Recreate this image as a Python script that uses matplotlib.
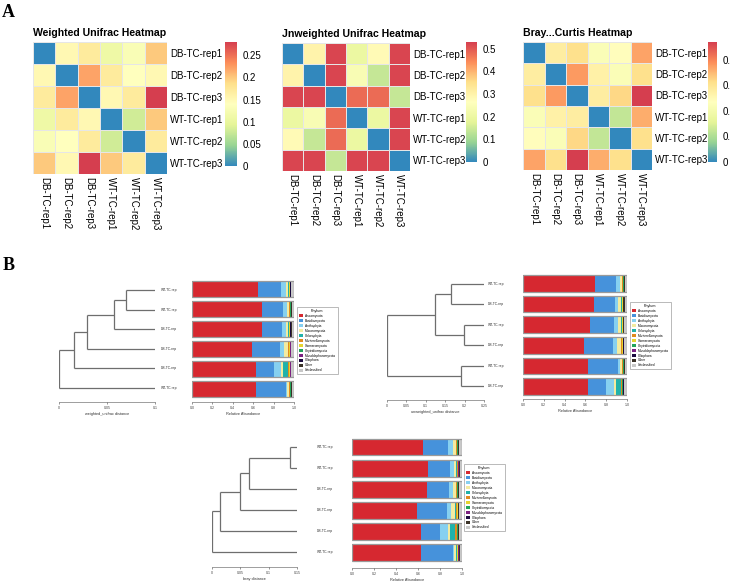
# Beta diversity heatmaps (A) and clustering trees with phylum bars (B)

import numpy as np
import matplotlib.pyplot as plt
from matplotlib.colors import LinearSegmentedColormap
from matplotlib.patches import Patch

W, H = 730, 584

# =============================================================================
#                                     Data
# =============================================================================
samples = ['DB-TC-rep1', 'DB-TC-rep2', 'DB-TC-rep3',
           'WT-TC-rep1', 'WT-TC-rep2', 'WT-TC-rep3']

weighted = [[0.00, 0.15, 0.17, 0.11, 0.13, 0.20],
            [0.15, 0.00, 0.22, 0.17, 0.14, 0.15],
            [0.17, 0.22, 0.00, 0.15, 0.17, 0.28],
            [0.11, 0.17, 0.15, 0.00, 0.08, 0.20],
            [0.13, 0.14, 0.17, 0.08, 0.00, 0.17],
            [0.20, 0.15, 0.28, 0.20, 0.17, 0.00]]

unweighted = [[0.00, 0.30, 0.52, 0.20, 0.28, 0.52],
              [0.30, 0.00, 0.52, 0.24, 0.14, 0.52],
              [0.52, 0.52, 0.00, 0.48, 0.48, 0.14],
              [0.20, 0.24, 0.48, 0.00, 0.20, 0.52],
              [0.28, 0.14, 0.48, 0.20, 0.00, 0.52],
              [0.52, 0.52, 0.14, 0.52, 0.52, 0.00]]

bray = [[0.00, 0.28, 0.31, 0.22, 0.24, 0.37],
        [0.28, 0.00, 0.38, 0.27, 0.22, 0.31],
        [0.31, 0.38, 0.00, 0.28, 0.32, 0.47],
        [0.22, 0.27, 0.28, 0.00, 0.12, 0.36],
        [0.24, 0.22, 0.32, 0.12, 0.00, 0.31],
        [0.37, 0.31, 0.47, 0.36, 0.31, 0.00]]

heat_titles = ['Weighted Unifrac Heatmap', 'Jnweighted Unifrac Heatmap',
               'Bray...Curtis Heatmap']
heat_vmax = [0.28, 0.53, 0.47]
heat_ticks = [[0, 0.05, 0.1, 0.15, 0.2, 0.25],
              [0, 0.1, 0.2, 0.3, 0.4, 0.5],
              [0, 0.1, 0.2, 0.3, 0.4]]

phyla = ['Ascomycota', 'Basidiomycota', 'Anthophyta', 'Mucoromycota',
         'Chlorophyta', 'Mortierellomycota', 'Glomeromycota',
         'Chytridiomycota', 'Monoblepharomycota', 'Ciliophora', 'Other',
         'Unclassified']
phyla_colors = ['#d62830', '#4692db', '#86d0f0', '#f3eba0', '#20b2aa',
                '#e08a1e', '#e6d42e', '#22a45a', '#7b2181', '#1b0b3f',
                '#3b3328', '#c8c8c8']

# relative abundance per sample (rows) and phylum (columns)
abundance = [[0.647, 0.226, 0.045, 0.026, 0.004, 0.006, 0.004, 0.003, 0.002, 0.003, 0.008, 0.026],
             [0.690, 0.205, 0.035, 0.020, 0.004, 0.006, 0.004, 0.003, 0.002, 0.003, 0.010, 0.018],
             [0.683, 0.199, 0.036, 0.026, 0.004, 0.006, 0.004, 0.003, 0.002, 0.003, 0.010, 0.024],
             [0.590, 0.276, 0.034, 0.040, 0.006, 0.008, 0.006, 0.004, 0.002, 0.002, 0.006, 0.026],
             [0.624, 0.176, 0.076, 0.014, 0.050, 0.012, 0.004, 0.008, 0.002, 0.002, 0.006, 0.026],
             [0.624, 0.294, 0.012, 0.020, 0.004, 0.004, 0.004, 0.006, 0.002, 0.004, 0.008, 0.018]]

# trees: nested (left, right, merge distance), leaves are row numbers in the bar order
tree_weighted = (((((0, 1, 0.0697), 2, 0.057), 3, 0.029), 4, 0.0153), 5, 0.0)
tree_unweighted = (((0, 1, 0.166), (2, 3, 0.198), 0.124), (4, 5, 0.192), 0.0)
tree_bray = (((((0, 1, 0.138), 2, 0.066), 3, 0.049), 4, 0.015), 5, 0.0)

leaves_weighted = ['WT-TC-rep', 'WT-TC-rep', 'DB-TC-rep', 'DB-TC-rep', 'DB-TC-rep', 'WT-TC-rep']
leaves_unweighted = ['WT-TC-rep', 'DB-TC-rep', 'WT-TC-rep', 'DB-TC-rep', 'WT-TC-rep', 'DB-TC-rep']
leaves_bray = ['WT-TC-rep', 'WT-TC-rep', 'DB-TC-rep', 'DB-TC-rep', 'DB-TC-rep', 'WT-TC-rep']

order_weighted = [0, 1, 2, 3, 4, 5]
order_unweighted = [1, 2, 0, 3, 5, 4]
order_bray = [0, 1, 2, 3, 4, 5]

# =============================================================================
#                                     Main
# =============================================================================
plt.rcParams['font.family'] = ['Liberation Sans', 'DejaVu Sans']

fig = plt.figure(figsize=(W / 100, H / 100), dpi=100)
fig.patch.set_facecolor('white')


def px_axes(x0, y0, x1, y1):
    return fig.add_axes([x0 / W, 1 - y1 / H, (x1 - x0) / W, (y1 - y0) / H])


cmap = LinearSegmentedColormap.from_list(
    'spec', ['#3288bd', '#99d594', '#e6f598', '#ffffbf', '#fee08b', '#fc8d59', '#d53e4f'])

# ---------------- panel A ----------------
heat_boxes = [(33, 42, 167, 174), (282, 43, 410, 171), (523, 42, 652, 170)]
cbar_boxes = [(225, 42, 237, 166), (466, 42, 477, 162), (708, 42, 717, 162)]
for mat, title, vmax, ticks, hb, cb in zip([weighted, unweighted, bray], heat_titles,
                                          heat_vmax, heat_ticks, heat_boxes, cbar_boxes):
    ax = px_axes(*hb)
    mesh = ax.pcolormesh(np.array(mat), cmap=cmap, vmin=0, vmax=vmax,
                         edgecolors='#e6e6e6', linewidth=0.4)
    ax.set_xlim(0, 6)
    ax.set_ylim(6, 0)
    for s in ax.spines.values():
        s.set_visible(False)
    ax.yaxis.tick_right()
    ax.set_yticks(np.arange(6) + 0.5)
    ax.set_yticklabels(samples, fontsize=7)
    ax.set_xticks(np.arange(6) + 0.5)
    ax.set_xticklabels(samples, fontsize=7, rotation=-90, va='top', ha='center')
    ax.tick_params(length=0, pad=2)
    ax.set_title(title, fontsize=7.6, fontweight='bold', loc='left', pad=4)
    cax = px_axes(*cb)
    cbar = fig.colorbar(mesh, cax=cax)
    cbar.outline.set_visible(False)
    cbar.set_ticks(ticks)
    cbar.set_ticklabels([f'{t:g}' for t in ticks])
    cax.tick_params(labelsize=7, length=2, width=0.5, color='white', pad=2)

fig.text(2 / W, 1 - 4 / H, 'A', fontsize=13, fontweight='bold',
         family='Liberation Serif', va='top')
fig.text(3 / W, 1 - 257 / H, 'B', fontsize=13, fontweight='bold',
         family='Liberation Serif', va='top')


# ---------------- panel B ----------------
def rows_axes(x0, x1, y_first, y_last, y_axis):
    sp = (y_last - y_first) / 5
    top = y_first - 0.6 * sp
    ax = px_axes(x0, top, x1, y_axis)
    ax.set_ylim((y_axis - y_first) / sp, -0.6)
    return ax


def draw_tree(ax, node, leaf_x):
    if isinstance(node, int):
        return leaf_x, node
    left, right, x = node
    xa, ya = draw_tree(ax, left, leaf_x)
    xb, yb = draw_tree(ax, right, leaf_x)
    ax.plot([x, xa], [ya, ya], color='#6e6e6e', lw=0.9, solid_capstyle='butt')
    ax.plot([x, xb], [yb, yb], color='#6e6e6e', lw=0.9, solid_capstyle='butt')
    ax.plot([x, x], [ya, yb], color='#6e6e6e', lw=0.9, solid_capstyle='butt')
    return x, (ya + yb) / 2


def style_bottom(ax, ticks, labels, xlabel):
    for k in ['top', 'left', 'right']:
        ax.spines[k].set_visible(False)
    ax.spines['bottom'].set_bounds(ticks[0], ticks[-1])
    ax.spines['bottom'].set_linewidth(0.4)
    ax.spines['bottom'].set_color('#555555')
    ax.set_yticks([])
    ax.set_xticks(ticks)
    ax.set_xticklabels(labels)
    ax.tick_params(axis='x', labelsize=2.6, length=1.5, width=0.4, pad=1.5, colors='#444444')
    ax.set_xlabel(xlabel, fontsize=2.8, labelpad=1.5, color='#333333')
    ax.patch.set_alpha(0)


trees = [tree_weighted, tree_unweighted, tree_bray]
leaf_sets = [leaves_weighted, leaves_unweighted, leaves_bray]
orders = [order_weighted, order_unweighted, order_bray]
tree_geo = [(59, 155, 0.1, 0.102, 290, 388, 402, [0, 0.05, 0.1], 'weighted_unifrac distance'),
            (387, 484, 0.25, 0.25, 284, 386, 400, [0, 0.05, 0.1, 0.15, 0.2, 0.25],
             'unweighted_unifrac distance'),
            (212, 297, 0.15, 0.179, 447, 552, 567, [0, 0.05, 0.1, 0.15], 'bray distance')]
bar_geo = [(192, 294, 289, 389, 402), (523, 627, 283.5, 386.5, 399), (352, 462, 447, 552.5, 568)]
legend_pos = [(297, 307), (630, 302), (464, 464)]

for tree, leaves, order, tg, bg, lp in zip(trees, leaf_sets, orders, tree_geo, bar_geo, legend_pos):
    x0, x1, dmax, leaf_x, yf, yl, ya, ticks, xlabel = tg
    ax = rows_axes(x0, x1, yf, yl, ya)
    ax.set_xlim(0, dmax)
    draw_tree(ax, tree, leaf_x)
    for i, lab in enumerate(leaves):
        ax.text(leaf_x + dmax * 0.04, i, lab, fontsize=2.4, va='center', ha='left',
                color='#333333', clip_on=False)
    style_bottom(ax, ticks, [f'{t:g}' for t in ticks], xlabel)

    bx0, bx1, byf, byl, bya = bg
    bax = rows_axes(bx0, bx1, byf, byl, bya)
    bax.set_xlim(0, 1)
    rows = np.array([abundance[k] for k in order])
    left = np.zeros(6)
    for j, (ph, col) in enumerate(zip(phyla, phyla_colors)):
        bax.barh(np.arange(6), rows[:, j], left=left, height=0.8, color=col, linewidth=0)
        left += rows[:, j]
    bax.barh(np.arange(6), left, height=0.8, fill=False, edgecolor='#9a9a9a', linewidth=0.9)
    bt = [0, 0.2, 0.4, 0.6, 0.8, 1.0]
    style_bottom(bax, bt, [f'{t:.1f}' for t in bt], 'Relative Abundance')

    handles = [Patch(facecolor=c, edgecolor='none') for c in phyla_colors]
    leg = fig.legend(handles, phyla, title='Phylum', fontsize=2.3, title_fontsize=2.7,
                     loc='upper left', bbox_to_anchor=(lp[0] / W, 1 - lp[1] / H),
                     frameon=True, fancybox=False, edgecolor='#9a9a9a',
                     handlelength=1.3, handleheight=0.9, labelspacing=0.3,
                     borderpad=0.6, handletextpad=0.6, borderaxespad=0)
    leg.get_frame().set_linewidth(0.6)

fig.savefig('out.png', dpi=100, facecolor='white')
